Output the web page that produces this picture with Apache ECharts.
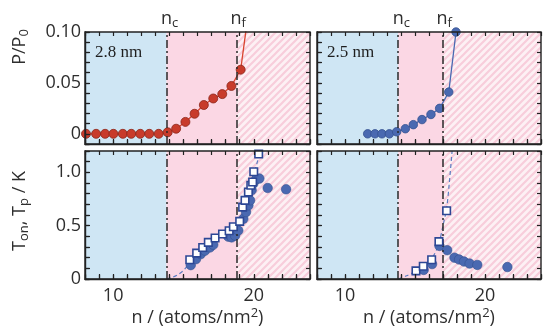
<!DOCTYPE html>
<html>
<head>
<meta charset="utf-8">
<script src="https://cdn.jsdelivr.net/npm/echarts@6/dist/echarts.min.js"></script>
<style>
  html, body { margin: 0; padding: 0; background: #ffffff; }
  #chart { width: 544px; height: 332px; }
</style>
</head>
<body>
<div id="chart"></div>
<script>
// ---------- data ----------
// critical (nc) and filling (nf) coverages for the two pore sizes
const nc28 = 13.8, nf28 = 18.8;
const nc25 = 13.8, nf25 = 17.0;

// vapour pressure isotherm, 2.8 nm pores
const n28P = [8.07, 8.79, 9.43, 10.02, 10.69, 11.29, 11.93, 12.57, 13.24, 13.88, 14.48, 15.14, 15.79, 16.45, 17.12, 17.76, 18.41, 19.07];
const p28  = [0, 0, 0, 0, 0, 0, 0, 0, 0, 0.0015, 0.005, 0.0117, 0.0197, 0.0283, 0.0347, 0.039, 0.047, 0.063];
// steep rise after filling
const n28Rise = [19.07, 19.5];
const p28Rise = [0.063, 0.107];

// vapour pressure isotherm, 2.5 nm pores
const n25P = [11.62, 12.14, 12.64, 13.17, 13.69, 14.31, 14.88, 15.5, 16.14, 16.76, 17.41, 17.93];
const p25  = [0, 0, 0, 0, 0.002, 0.005, 0.009, 0.014, 0.019, 0.025, 0.041, 0.1];

// onset temperature Ton (open squares) and peak temperature Tp (filled circles), 2.8 nm
const n28On = [15.45, 15.94, 16.37, 16.77, 17.25, 17.78, 18.25, 18.55, 19.0, 19.21, 19.38, 19.62, 19.79, 19.92, 20.0, 20.35];
const t28On = [0.18, 0.243, 0.296, 0.343, 0.385, 0.422, 0.452, 0.49, 0.54, 0.674, 0.737, 0.815, 0.879, 0.91, 1.005, 1.172];
const n28Pk = [15.52, 15.89, 16.23, 16.53, 16.89, 17.12, 18.19, 18.43, 18.67, 18.9, 19.26, 19.45, 19.62, 19.74, 19.85, 19.97, 20.16, 20.4, 20.99, 22.3];
const t28Pk = [0.13, 0.186, 0.233, 0.265, 0.296, 0.321, 0.397, 0.39, 0.406, 0.454, 0.564, 0.627, 0.69, 0.737, 0.832, 0.895, 0.933, 0.942, 0.853, 0.841];
// guide curve for Ton, 2.8 nm
const n28Fit = [13.8, 14.2, 14.6, 15.0, 15.4, 16.0, 16.6, 17.2, 17.8, 18.4, 18.9, 19.2, 19.5, 19.8, 20.05, 20.3, 20.45];
const t28Fit = [0, 0.015, 0.04, 0.08, 0.14, 0.23, 0.31, 0.37, 0.42, 0.47, 0.52, 0.62, 0.76, 0.88, 1.0, 1.12, 1.2];

// onset / peak temperatures, 2.5 nm
const n25On = [15.07, 15.59, 16.19, 16.71, 17.26];
const t25On = [0.076, 0.12, 0.18, 0.35, 0.64];
const n25Pk = [15.62, 16.22, 16.75, 17.3, 17.82, 18.15, 18.5, 18.9, 19.45, 21.6];
const t25Pk = [0.085, 0.14, 0.31, 0.27, 0.2, 0.183, 0.164, 0.145, 0.132, 0.112];
// guide curve for Ton, 2.5 nm
const n25Fit = [13.8, 14.4, 15.0, 15.6, 16.2, 16.7, 16.95, 17.1, 17.26, 17.45, 17.65];
const t25Fit = [0, 0.03, 0.07, 0.12, 0.19, 0.33, 0.47, 0.56, 0.66, 0.9, 1.2];

// tick labels
const xLabelTicks = [10, 20];
const pLabelTicks = [0, 0.05, 0.10];
const tLabelTicks = [0, 0.5, 1.0];

// ---------- helpers ----------
const zip = (a, b) => a.map((v, i) => [v, b[i]]);

const ink = '#222222';
const textInk = '#2e2e2e';
const sans = '"Open Sans", "Noto Sans", sans-serif';
const bandBlue = '#cfe6f4';
const bandPink = '#fbd7e4';

function hatchCanvas() {
  const c = document.createElement('canvas');
  c.width = 7; c.height = 7;
  const g = c.getContext('2d');
  g.fillStyle = '#fdf0f4';
  g.fillRect(0, 0, 7, 7);
  g.strokeStyle = '#f8cddb';
  g.lineWidth = 2.2;
  g.beginPath();
  g.moveTo(-2, 9); g.lineTo(9, -2);
  g.moveTo(-6, 6); g.lineTo(6, -6);
  g.moveTo(1, 13); g.lineTo(13, 1);
  g.stroke();
  return c;
}
const hatch = { image: hatchCanvas(), repeat: 'repeat' };

const X_MIN = 8, X_MAX = 24;
const P_MIN = -0.01, P_MAX = 0.1;
const T_MIN = 0, T_MAX = 1.2;
const grids = [
  { left: 85,  top: 32,  width: 225, height: 112 },
  { left: 317, top: 32,  width: 224, height: 112 },
  { left: 85,  top: 151, width: 225, height: 128 },
  { left: 317, top: 151, width: 224, height: 128 }
].map(g => Object.assign(g, { show: true, z: 15, borderColor: ink, borderWidth: 1.4, backgroundColor: 'rgba(0,0,0,0)' }));

// data axes: frame lines and tick labels
function xAxis(g, withLabels) {
  return {
    type: 'value', gridIndex: g, position: 'bottom', min: X_MIN, max: X_MAX, interval: 1, z: 20,
    axisLine: { show: true, onZero: false, lineStyle: { color: ink, width: 1.4 } },
    axisTick: { show: true, inside: true, length: 5, lineStyle: { color: ink, width: 1.2 } },
    axisLabel: { show: withLabels, customValues: xLabelTicks, margin: 8, color: textInk, fontSize: 18, fontFamily: sans },
    splitLine: { show: false }
  };
}
function yAxis(g, isP, withLabels) {
  return {
    type: 'value', gridIndex: g, position: 'left', z: 20,
    min: isP ? P_MIN : T_MIN, max: isP ? P_MAX : T_MAX, interval: isP ? 0.01 : 0.1,
    axisLine: { show: true, onZero: false, lineStyle: { color: ink, width: 1.4 } },
    axisTick: { show: true, inside: true, length: 5, lineStyle: { color: ink, width: 1.2 } },
    axisLabel: {
      show: withLabels, customValues: isP ? pLabelTicks : tLabelTicks, margin: 4,
      color: textInk, fontSize: 18, fontFamily: sans,
      formatter: v => v === 0 ? '0' : (isP ? v.toFixed(2) : v.toFixed(1))
    },
    splitLine: { show: false }
  };
}
// tick rulers laid along each panel edge: one step per axis unit
// (x: 1 atom/nm2, P/P0: 0.01, T: 0.1 K), drawn with minor ticks
function ruler(g, pos, steps) {
  return {
    type: 'value', gridIndex: g, position: pos, min: 0, max: steps, interval: steps, z: 20,
    axisLine: { show: false, onZero: false },
    axisTick: { show: true, inside: true, length: 4, lineStyle: { color: ink, width: 1.2 } },
    minorTick: { show: true, splitNumber: steps, length: 4, lineStyle: { color: ink, width: 1.2 } },
    axisLabel: { show: false },
    splitLine: { show: false }, minorSplitLine: { show: false }
  };
}
const X_STEPS = X_MAX - X_MIN;                       // 16
const P_STEPS = Math.round((P_MAX - P_MIN) / 0.01);  // 11
const T_STEPS = Math.round((T_MAX - T_MIN) / 0.1);   // 12

const xAxes = [], yAxes = [];
for (let g = 0; g < 4; g++) {
  xAxes.push(xAxis(g, g >= 2));
  yAxes.push(yAxis(g, g < 2, g === 0 || g === 2));
}
for (let g = 0; g < 4; g++) {
  const ySteps = g < 2 ? P_STEPS : T_STEPS;
  xAxes.push(ruler(g, 'top', X_STEPS));
  xAxes.push(ruler(g, 'bottom', X_STEPS));
  yAxes.push(ruler(g, 'right', ySteps));
  yAxes.push(ruler(g, 'left', ySteps));
}

function bands(nc, nf) {
  return {
    silent: true,
    data: [
      [{ xAxis: X_MIN, itemStyle: { color: bandBlue } }, { xAxis: nc }],
      [{ xAxis: nc, itemStyle: { color: bandPink } }, { xAxis: nf }],
      [{ xAxis: nf, itemStyle: { color: hatch } }, { xAxis: X_MAX }]
    ]
  };
}
function borders(nc, nf) {
  return {
    silent: true, symbol: 'none', label: { show: false },
    lineStyle: { color: '#2a2a2a', width: 1.5, type: [8, 3, 2, 3] },
    data: [{ xAxis: nc }, { xAxis: nf }]
  };
}

const red = '#c83b2b', redEdge = '#8a2619', redLine = '#d9442f';
const blue = '#4a69b1', blueEdge = '#34508f';
const squareEdge = '#2d4795';
const fitBlue = '#5b7cc2';

const series = [
  {
    type: 'line', xAxisIndex: 0, yAxisIndex: 0, data: zip(n28P, p28),
    symbol: 'circle', symbolSize: 9, z: 4,
    itemStyle: { color: red, borderColor: redEdge, borderWidth: 0.8 },
    lineStyle: { color: redLine, width: 1.3 },
    markArea: bands(nc28, nf28), markLine: borders(nc28, nf28)
  },
  {
    type: 'line', xAxisIndex: 0, yAxisIndex: 0, data: zip(n28Rise, p28Rise),
    symbol: 'none', z: 3, lineStyle: { color: redLine, width: 1.3 }
  },
  {
    type: 'line', xAxisIndex: 1, yAxisIndex: 1, data: zip(n25P, p25),
    symbol: 'circle', symbolSize: 8.5, z: 4, clip: false,
    itemStyle: { color: blue, borderColor: blueEdge, borderWidth: 0.8 },
    lineStyle: { color: blue, width: 1.3 },
    markArea: bands(nc25, nf25), markLine: borders(nc25, nf25)
  },
  {
    type: 'line', xAxisIndex: 2, yAxisIndex: 2, data: zip(n28Fit, t28Fit),
    symbol: 'none', smooth: 0.3, z: 3,
    lineStyle: { color: fitBlue, width: 1.2, type: [4, 3] },
    markArea: bands(nc28, nf28), markLine: borders(nc28, nf28)
  },
  {
    type: 'scatter', xAxisIndex: 2, yAxisIndex: 2, data: zip(n28Pk, t28Pk),
    symbol: 'circle', symbolSize: 9.5, z: 4,
    itemStyle: { color: blue, borderColor: blueEdge, borderWidth: 0.6, opacity: 1 }
  },
  {
    type: 'scatter', xAxisIndex: 2, yAxisIndex: 2, data: zip(n28On, t28On),
    symbol: 'rect', symbolSize: 7.5, z: 5,
    itemStyle: { color: '#ffffff', borderColor: squareEdge, borderWidth: 1.6, opacity: 1 }
  },
  {
    type: 'line', xAxisIndex: 3, yAxisIndex: 3, data: zip(n25Fit, t25Fit),
    symbol: 'none', smooth: 0.3, z: 3,
    lineStyle: { color: fitBlue, width: 1.2, type: [4, 3] },
    markArea: bands(nc25, nf25), markLine: borders(nc25, nf25)
  },
  {
    type: 'scatter', xAxisIndex: 3, yAxisIndex: 3, data: zip(n25Pk, t25Pk),
    symbol: 'circle', symbolSize: 9.5, z: 4,
    itemStyle: { color: blue, borderColor: blueEdge, borderWidth: 0.6, opacity: 1 }
  },
  {
    type: 'scatter', xAxisIndex: 3, yAxisIndex: 3, data: zip(n25On, t25On),
    symbol: 'rect', symbolSize: 7.5, z: 5,
    itemStyle: { color: '#ffffff', borderColor: squareEdge, borderWidth: 1.6, opacity: 1 }
  }
];

// ---------- text annotations ----------
const mainTok = { fontSize: 18, fontFamily: sans, fill: textInk, lineHeight: 22 };
const subTok  = { fontSize: 13, fontFamily: sans, fill: textInk, lineHeight: 13, verticalAlign: 'bottom' };
const supTok  = { fontSize: 13, fontFamily: sans, fill: textInk, lineHeight: 13, verticalAlign: 'top' };
const rich = { m: mainTok, s: subTok, u: supTok };

function richText(x, y, text, align, rotation) {
  const el = {
    type: 'text', x: x, y: y, silent: true, z: 30,
    style: { text: text, rich: rich, align: align || 'center', verticalAlign: 'middle', fill: textInk, font: '18px ' + sans }
  };
  if (rotation !== undefined) el.rotation = rotation;
  return el;
}
// horizontal pixel position of a coverage value inside a panel
const px = (g, v) => grids[g].left + (v - X_MIN) / (X_MAX - X_MIN) * grids[g].width;

const graphics = [];
[[0, nc28, nf28], [1, nc25, nf25]].forEach(([g, nc, nf]) => {
  graphics.push(richText(px(g, nc) - 5.5, 19, '{m|n}{s|c}', 'left'));
  graphics.push(richText(px(g, nf) - 6.5, 19, '{m|n}{s|f}', 'left'));
});
graphics.push(richText(20, 47, '{m|P/P}{s|0}', 'center', Math.PI / 2));
graphics.push(richText(20, 211, '{m|T}{s|on}{m|, T}{s|p}{m| / K}', 'center', Math.PI / 2));
graphics.push(richText(grids[2].left + grids[2].width / 2, 318, '{m|n / (atoms/nm}{u|2}{m|)}'));
graphics.push(richText(grids[3].left + grids[3].width / 2, 318, '{m|n / (atoms/nm}{u|2}{m|)}'));
[[0, '2.8 nm'], [1, '2.5 nm']].forEach(([g, t]) => graphics.push({
  type: 'text', x: grids[g].left + 10, y: 53, silent: true, z: 30,
  style: { text: t, font: '17px "Liberation Serif", serif', fill: '#1e1e1e', verticalAlign: 'middle', align: 'left' }
}));

const chart = echarts.init(document.getElementById('chart'), null, { renderer: 'canvas' });
chart.setOption({
  animation: false,
  backgroundColor: '#ffffff',
  grid: grids,
  xAxis: xAxes,
  yAxis: yAxes,
  series: series,
  graphic: graphics
});
</script>
</body>
</html>
